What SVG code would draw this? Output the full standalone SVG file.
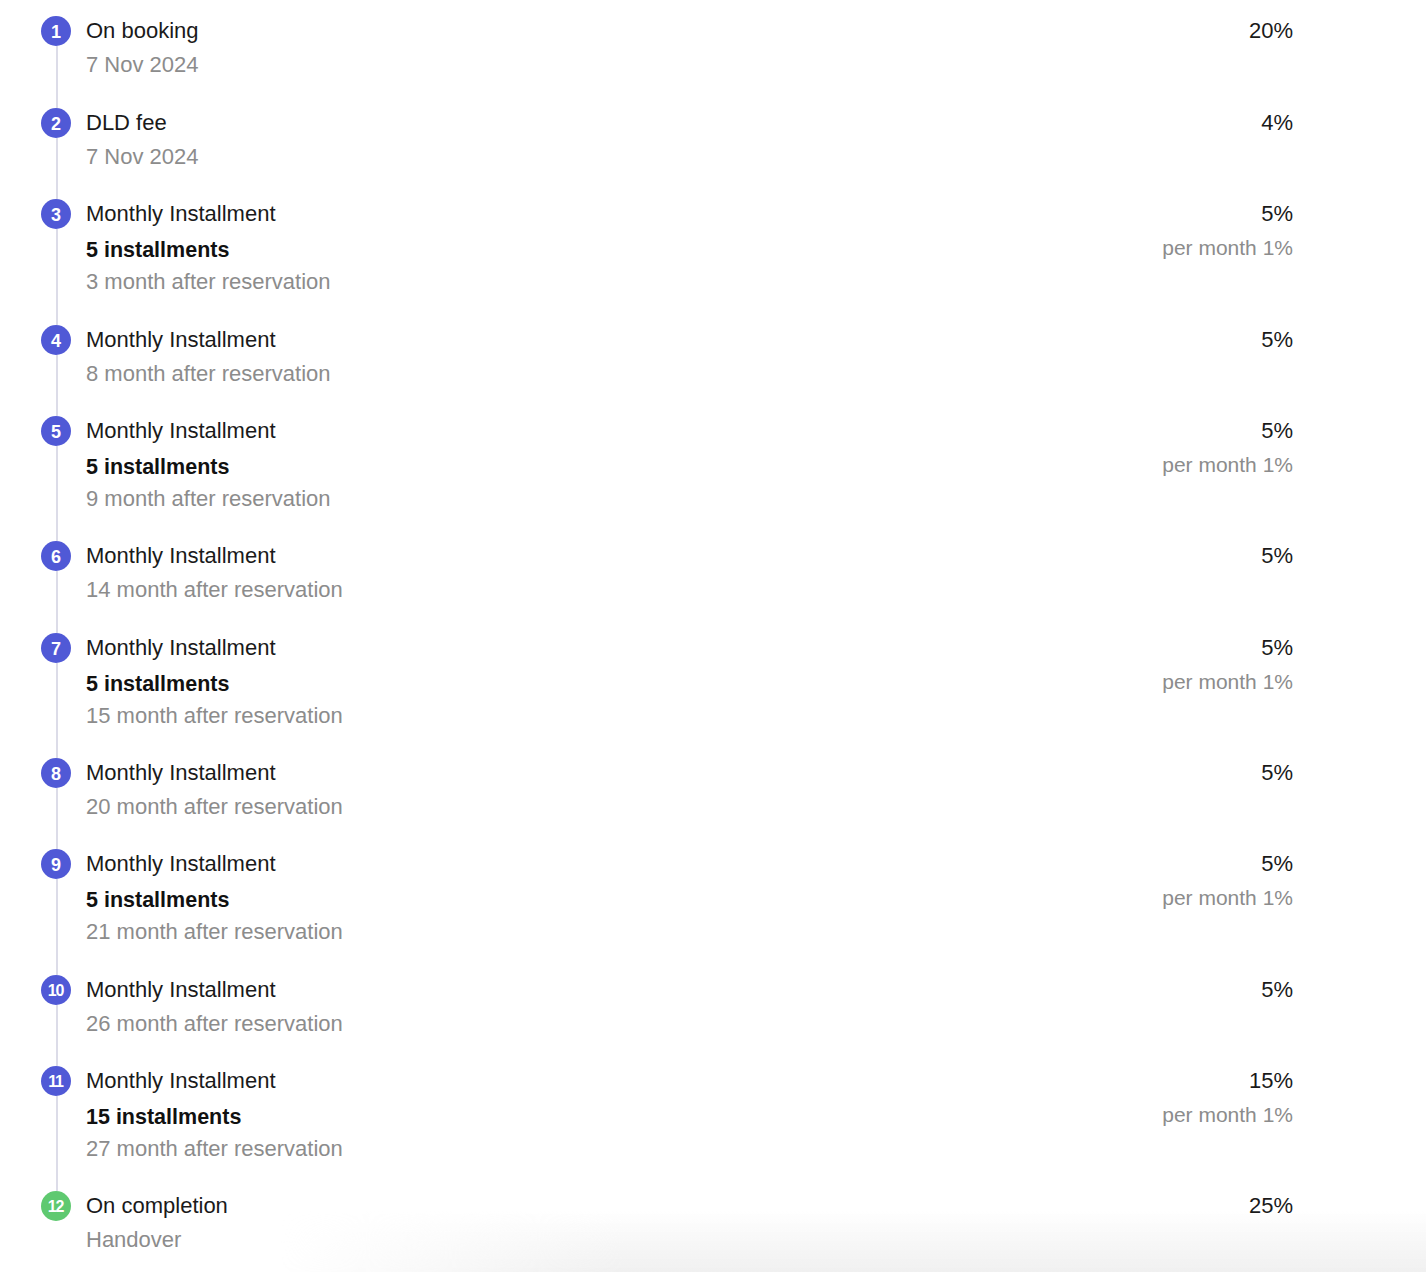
<svg xmlns="http://www.w3.org/2000/svg" width="1426" height="1272" viewBox="0 0 1426 1272">
<style>
text{font-family:"Liberation Sans",Arial,sans-serif;font-size:22px}
.t{fill:#1a1a1a}
.g{fill:#8c8c8c}
.p{fill:#8c8c8c;font-size:21px;text-anchor:end}
.b{fill:#111;font-weight:bold;font-size:21.5px}
.r{text-anchor:end}
.n{fill:#fff;font-size:18px;text-anchor:middle;font-weight:bold}
.n2{fill:#fff;font-size:16px;text-anchor:middle;font-weight:bold;letter-spacing:-1.2px}
.c{fill:#5059d6}
.cg{fill:#5fc970}
.ln{stroke:#dcdce8;stroke-width:2;fill:none}
</style>
<defs>
<linearGradient id="sh" x1="0" y1="0" x2="0" y2="1">
<stop offset="0" stop-color="#f0f0f0" stop-opacity="0"/>
<stop offset="1" stop-color="#f0f0f0" stop-opacity="1"/>
</linearGradient>
<linearGradient id="shx" x1="0" y1="0" x2="1" y2="0">
<stop offset="0" stop-color="#fff" stop-opacity="0"/>
<stop offset="0.3" stop-color="#fff" stop-opacity="1"/>
<stop offset="1" stop-color="#fff" stop-opacity="1"/>
</linearGradient>
<mask id="m"><rect x="280" y="1210" width="1146" height="62" fill="url(#shx)"/></mask>
</defs>
<rect width="1426" height="1272" fill="#fff"/>
<rect x="280" y="1210" width="1146" height="62" fill="url(#sh)" mask="url(#m)"/>
<g id="connectors">
<line class="ln" x1="57" y1="46" x2="57" y2="108"/>
<line class="ln" x1="57" y1="138" x2="57" y2="199"/>
<line class="ln" x1="57" y1="229" x2="57" y2="325"/>
<line class="ln" x1="57" y1="355" x2="57" y2="416"/>
<line class="ln" x1="57" y1="446" x2="57" y2="541"/>
<line class="ln" x1="57" y1="571" x2="57" y2="633"/>
<line class="ln" x1="57" y1="663" x2="57" y2="758"/>
<line class="ln" x1="57" y1="788" x2="57" y2="849"/>
<line class="ln" x1="57" y1="879" x2="57" y2="975"/>
<line class="ln" x1="57" y1="1005" x2="57" y2="1066"/>
<line class="ln" x1="57" y1="1096" x2="57" y2="1191"/>
</g>
<g id="n1"><circle class="c" cx="56" cy="31" r="15"/><text class="n" x="56" y="37.5">1</text>
<text class="t" x="86" y="38">On booking</text><text class="g" x="86" y="72">7 Nov 2024</text><text class="t r" x="1293" y="38">20%</text></g>
<g id="n2"><circle class="c" cx="56" cy="123" r="15"/><text class="n" x="56" y="129.5">2</text>
<text class="t" x="86" y="130">DLD fee</text><text class="g" x="86" y="164">7 Nov 2024</text><text class="t r" x="1293" y="130">4%</text></g>
<g id="n3"><circle class="c" cx="56" cy="214" r="15"/><text class="n" x="56" y="220.5">3</text>
<text class="t" x="86" y="221">Monthly Installment</text><text class="b" x="86" y="257">5 installments</text><text class="g" x="86" y="289">3 month after reservation</text><text class="t r" x="1293" y="221">5%</text><text class="p" x="1293" y="255">per month 1%</text></g>
<g id="n4"><circle class="c" cx="56" cy="340" r="15"/><text class="n" x="56" y="346.5">4</text>
<text class="t" x="86" y="347">Monthly Installment</text><text class="g" x="86" y="381">8 month after reservation</text><text class="t r" x="1293" y="347">5%</text></g>
<g id="n5"><circle class="c" cx="56" cy="431" r="15"/><text class="n" x="56" y="437.5">5</text>
<text class="t" x="86" y="438">Monthly Installment</text><text class="b" x="86" y="474">5 installments</text><text class="g" x="86" y="506">9 month after reservation</text><text class="t r" x="1293" y="438">5%</text><text class="p" x="1293" y="472">per month 1%</text></g>
<g id="n6"><circle class="c" cx="56" cy="556" r="15"/><text class="n" x="56" y="562.5">6</text>
<text class="t" x="86" y="563">Monthly Installment</text><text class="g" x="86" y="597">14 month after reservation</text><text class="t r" x="1293" y="563">5%</text></g>
<g id="n7"><circle class="c" cx="56" cy="648" r="15"/><text class="n" x="56" y="654.5">7</text>
<text class="t" x="86" y="655">Monthly Installment</text><text class="b" x="86" y="691">5 installments</text><text class="g" x="86" y="723">15 month after reservation</text><text class="t r" x="1293" y="655">5%</text><text class="p" x="1293" y="689">per month 1%</text></g>
<g id="n8"><circle class="c" cx="56" cy="773" r="15"/><text class="n" x="56" y="779.5">8</text>
<text class="t" x="86" y="780">Monthly Installment</text><text class="g" x="86" y="814">20 month after reservation</text><text class="t r" x="1293" y="780">5%</text></g>
<g id="n9"><circle class="c" cx="56" cy="864" r="15"/><text class="n" x="56" y="870.5">9</text>
<text class="t" x="86" y="871">Monthly Installment</text><text class="b" x="86" y="907">5 installments</text><text class="g" x="86" y="939">21 month after reservation</text><text class="t r" x="1293" y="871">5%</text><text class="p" x="1293" y="905">per month 1%</text></g>
<g id="n10"><circle class="c" cx="56" cy="990" r="15"/><text class="n2" x="55.5" y="995.5">10</text>
<text class="t" x="86" y="997">Monthly Installment</text><text class="g" x="86" y="1031">26 month after reservation</text><text class="t r" x="1293" y="997">5%</text></g>
<g id="n11"><circle class="c" cx="56" cy="1081" r="15"/><text class="n2" x="55.5" y="1086.5">11</text>
<text class="t" x="86" y="1088">Monthly Installment</text><text class="b" x="86" y="1124">15 installments</text><text class="g" x="86" y="1156">27 month after reservation</text><text class="t r" x="1293" y="1088">15%</text><text class="p" x="1293" y="1122">per month 1%</text></g>
<g id="n12"><circle class="cg" cx="56" cy="1206" r="15"/><text class="n2" x="55.5" y="1211.5">12</text>
<text class="t" x="86" y="1213">On completion</text><text class="g" x="86" y="1247">Handover</text><text class="t r" x="1293" y="1213">25%</text></g>
</svg>
